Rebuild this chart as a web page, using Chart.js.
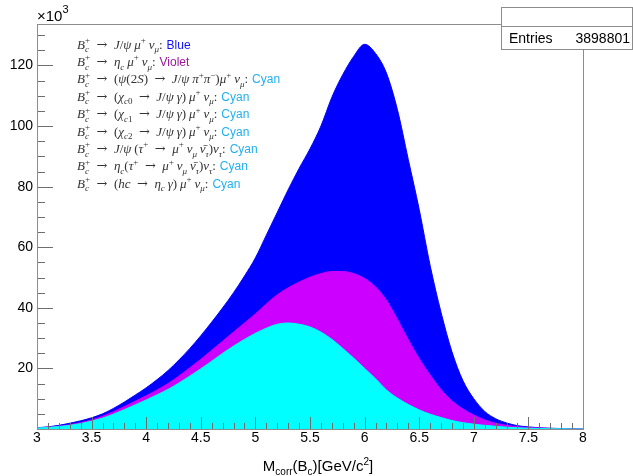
<!DOCTYPE html>
<html>
<head>
<meta charset="utf-8">
<script src="https://cdn.jsdelivr.net/npm/chart.js@4.4.1/dist/chart.umd.min.js"></script>
<style>
  html, body { margin: 0; padding: 0; background: #fff; }
  #wrap { width: 633px; height: 476px; position: relative; }
</style>
</head>
<body>
<div id="wrap"><canvas id="massChart" width="633" height="476"></canvas></div>
<script>
// M_corr bin centres (GeV/c^2)
const massBins = [3.0, 3.1, 3.2, 3.3, 3.4, 3.5, 3.6, 3.7, 3.8, 3.9,
                  4.0, 4.1, 4.2, 4.3, 4.4, 4.5, 4.6, 4.7, 4.8, 4.9,
                  5.0, 5.1, 5.2, 5.3, 5.4, 5.5, 5.6, 5.7, 5.8, 5.9,
                  6.0, 6.1, 6.2, 6.3, 6.4, 6.5, 6.6, 6.7, 6.8, 6.9,
                  7.0, 7.1, 7.2, 7.3, 7.4, 7.5, 7.6, 7.7, 7.8, 7.9, 8.0];

// top of each layer of the stack, in units of 10^3 entries
const cyanTop = [0.3, 0.5, 0.8, 1.2, 1.8, 2.6, 3.6, 4.9, 6.4, 8.0,
                 9.6, 11.3, 13.1, 15.2, 17.5, 19.9, 22.4, 25.0, 27.4, 29.6,
                 31.6, 33.3, 34.6, 35.0, 34.6, 33.7, 32.0, 29.6, 26.6, 23.4,
                 20.0, 16.6, 12.9, 10.2, 8.1, 6.3, 4.9, 3.8, 2.8, 2.1,
                 1.6, 1.2, 0.9, 0.6, 0.4, 0.25, 0.15, 0.1, 0.05, 0.03, 0];
const violetTop = [0.35, 0.6, 0.9, 1.4, 2.1, 3.0, 4.2, 5.7, 7.4, 9.2,
                   11.0, 12.9, 15.0, 17.5, 20.2, 23.0, 26.0, 29.0, 32.0, 35.0,
                   38.0, 41.3, 44.3, 46.6, 48.5, 50.1, 51.3, 52.0, 52.0, 51.3,
                   49.7, 46.9, 42.5, 36.2, 29.5, 23.2, 17.8, 13.0, 9.3, 6.6,
                   4.6, 3.0, 1.9, 1.2, 0.7, 0.45, 0.3, 0.2, 0.12, 0.08, 0];
const blueTop = [0.4, 0.7, 1.2, 1.9, 2.7, 3.7, 5.0, 6.8, 8.9, 11.2,
                 13.6, 16.3, 19.3, 22.8, 26.6, 30.8, 35.3, 40.0, 45.0, 50.5,
                 56.5, 64.0, 71.5, 79.0, 86.0, 92.5, 100.0, 109.5, 117.0, 123.0,
                 127.0, 124.0, 117.5, 105.5, 89.0, 72.5, 54.0, 38.5, 25.5, 16.0,
                 10.0, 5.8, 3.4, 2.0, 1.1, 0.7, 0.4, 0.25, 0.15, 0.1, 0];

const xTicks = [3, 3.5, 4, 4.5, 5, 5.5, 6, 6.5, 7, 7.5, 8];
const yTicks = [20, 40, 60, 80, 100, 120];

const legendLines = [
    ["B_{c}^{+} → J/ψ μ^{+} ν_{μ}:", "Blue", "#1010ff"],
    ["B_{c}^{+} → η_{c} μ^{+} ν_{μ}:", "Violet", "#9a189a"],
    ["B_{c}^{+} → (ψ(2S) → J/ψ π^{+}π^{−})μ^{+} ν_{μ}:", "Cyan", "#22b0f0"],
    ["B_{c}^{+} → (χ_{c0} → J/ψ γ) μ^{+} ν_{μ}:", "Cyan", "#22b0f0"],
    ["B_{c}^{+} → (χ_{c1} → J/ψ γ) μ^{+} ν_{μ}:", "Cyan", "#22b0f0"],
    ["B_{c}^{+} → (χ_{c2} → J/ψ γ) μ^{+} ν_{μ}:", "Cyan", "#22b0f0"],
    ["B_{c}^{+} → J/ψ (τ^{+} → μ^{+} ν_{μ} ν̄_{τ})ν_{τ}:", "Cyan", "#22b0f0"],
    ["B_{c}^{+} → η_{c}(τ^{+} → μ^{+} ν_{μ} ν̄_{τ})ν_{τ}:", "Cyan", "#22b0f0"],
    ["B_{c}^{+} → (hc → η_{c} γ) μ^{+} ν_{μ}:", "Cyan", "#22b0f0"]
];

const entries = "3898801";

const SANS = "'Liberation Sans', Arial, sans-serif";
const SERIF = "'Liberation Serif', 'DejaVu Serif', serif";
const ARROW = "'DejaVu Serif', serif";
const FRAME = "#8c8c8c";
const TICK = "#6e6e6e";

function points(ys) {
    return massBins.map((x, i) => ({ x, y: ys[i] }));
}

function layer(label, ys, color) {
    return {
        label,
        data: points(ys),
        backgroundColor: color,
        borderColor: color,
        borderWidth: 1,
        fill: "origin",
        pointRadius: 0,
        cubicInterpolationMode: "monotone"
    };
}

// draw a run of characters, latin/greek letters in italic
function drawRun(ctx, txt, x, y, size) {
    let cx = x;
    for (const ch of txt) {
        const italic = /[A-Za-z\u03b1-\u03c9]/.test(ch);
        ctx.font = (italic ? "italic " : "") + size + "px " + SERIF;
        ctx.fillText(ch, cx, y);
        cx += ctx.measureText(ch).width;
    }
    return cx - x;
}

// tiny TeX-like renderer: handles _{..} and ^{..}, stacks sub/sup pairs
function drawMath(ctx, str, x, y, size) {
    let cx = x;
    let scriptStart = 0, scriptW = 0, lastType = null;
    let i = 0;
    while (i < str.length) {
        const ch = str[i];
        if ((ch === "_" || ch === "^") && str[i + 1] === "{") {
            const end = str.indexOf("}", i);
            const txt = str.slice(i + 2, end);
            const stacked = lastType && lastType !== ch;
            const sx = stacked ? scriptStart : cx;
            const dy = ch === "^" ? -size * 0.42 : size * 0.28;
            const w = drawRun(ctx, txt, sx, y + dy, Math.round(size * 0.7));
            if (stacked) {
                cx = sx + Math.max(w, scriptW);
                lastType = null;
            } else {
                scriptStart = sx;
                scriptW = w;
                cx = sx + w;
                lastType = ch;
            }
            i = end + 1;
            continue;
        }
        lastType = null;
        let j = i + 1;
        // keep combining marks with their base letter
        while (j < str.length && /[\u0300-\u036f]/.test(str[j])) j++;
        const piece = str.slice(i, j);
        if (piece === " ") {
            cx += size * 0.22;
        } else if (piece === "→") {
            cx += size * 0.28;
            ctx.font = size + "px " + ARROW;
            ctx.fillText(piece, cx, y);
            cx += ctx.measureText(piece).width + size * 0.28;
        } else {
            cx += drawRun(ctx, piece, cx, y, size);
        }
        i = j;
    }
    return cx - x;
}

const rootStyle = {
    id: "rootStyle",
    afterDatasetsDraw(chart) {
        const { ctx, chartArea: a, scales: { x, y } } = chart;
        ctx.save();
        ctx.strokeStyle = TICK;
        ctx.lineWidth = 1;
        // inner ticks on x axis
        ctx.beginPath();
        for (let k = 0; k <= 50; k++) {
            const v = 3 + k * 0.1;
            const px = Math.round(x.getPixelForValue(v)) + 0.5;
            const len = k % 5 === 0 ? 12 : 6;
            ctx.moveTo(px, a.bottom);
            ctx.lineTo(px, a.bottom - len);
        }
        // inner ticks on y axis
        for (let v = 5; v < y.max; v += 5) {
            const py = Math.round(y.getPixelForValue(v)) + 0.5;
            const len = v % 20 === 0 ? 16 : 8;
            ctx.moveTo(a.left, py);
            ctx.lineTo(a.left + len, py);
        }
        ctx.stroke();
        ctx.strokeStyle = FRAME;
        ctx.strokeRect(Math.round(a.left) + 0.5, Math.round(a.top) + 0.5,
                       Math.round(a.right - a.left), Math.round(a.bottom - a.top));
        ctx.restore();
    },
    afterDraw(chart) {
        const { ctx, chartArea: a } = chart;
        ctx.save();

        // x10^3 multiplier
        ctx.fillStyle = "#000";
        ctx.textBaseline = "alphabetic";
        ctx.font = "15px " + SANS;
        ctx.fillText("×10", a.left, 21);
        const w10 = ctx.measureText("×10").width;
        ctx.font = "11px " + SANS;
        ctx.fillText("3", a.left + w10, 13);

        // axis title
        const parts = [["M", 15, 0], ["corr", 10, 4], ["(B", 15, 0], ["c", 10, 4], [")[GeV/c", 15, 0], ["2", 10, -6], ["]", 15, 0]];
        let total = 0;
        for (const p of parts) { ctx.font = p[1] + "px " + SANS; total += ctx.measureText(p[0]).width; }
        let tx = 318 - total / 2;
        for (const p of parts) {
            ctx.font = p[1] + "px " + SANS;
            ctx.fillText(p[0], tx, 471 + p[2]);
            tx += ctx.measureText(p[0]).width;
        }

        // decay-channel captions
        legendLines.forEach((line, k) => {
            const by = 48.5 + k * 17.4;
            ctx.fillStyle = "#333";
            const w = drawMath(ctx, line[0], 77, by, 13);
            ctx.fillStyle = line[2];
            ctx.font = "12px " + SANS;
            ctx.fillText(line[1], 77 + w + 4, by);
        });

        // stats box
        ctx.fillStyle = "#fff";
        ctx.fillRect(501.5, 7.5, 131, 42);
        ctx.strokeStyle = FRAME;
        ctx.strokeRect(501.5, 7.5, 131, 42);
        ctx.beginPath();
        ctx.moveTo(501.5, 26.5);
        ctx.lineTo(632.5, 26.5);
        ctx.stroke();
        ctx.fillStyle = "#000";
        ctx.font = "14px " + SANS;
        ctx.fillText("Entries", 509, 43);
        ctx.textAlign = "right";
        ctx.fillText(entries, 630, 43);
        ctx.restore();
    }
};

new Chart(document.getElementById("massChart"), {
    type: "line",
    data: {
        datasets: [
            layer("Cyan channels", cyanTop, "#00ffff"),
            layer("Violet", violetTop, "#cc00ff"),
            layer("Blue", blueTop, "#0000ff")
        ]
    },
    options: {
        responsive: false,
        animation: false,
        events: [],
        layout: { padding: { left: 0, right: 50, top: 24, bottom: 0 } },
        plugins: { legend: { display: false }, tooltip: { enabled: false } },
        scales: {
            x: {
                type: "linear",
                min: 3,
                max: 8,
                grid: { display: false, drawTicks: false },
                border: { display: false },
                afterBuildTicks: s => { s.ticks = xTicks.map(v => ({ value: v })); },
                afterFit: s => { s.height = 47; },
                ticks: {
                    padding: 1,
                    maxRotation: 0,
                    autoSkip: false,
                    color: "#000",
                    font: { family: SANS, size: 14 },
                    callback: v => String(v)
                }
            },
            y: {
                min: 0,
                max: 133.7,
                grid: { display: false, drawTicks: false },
                border: { display: false },
                afterBuildTicks: s => { s.ticks = yTicks.map(v => ({ value: v })); },
                afterFit: s => { s.width = 37; },
                ticks: {
                    padding: 4,
                    color: "#000",
                    font: { family: SANS, size: 14 },
                    callback: v => String(v)
                }
            }
        }
    },
    plugins: [rootStyle]
});
</script>
</body>
</html>
